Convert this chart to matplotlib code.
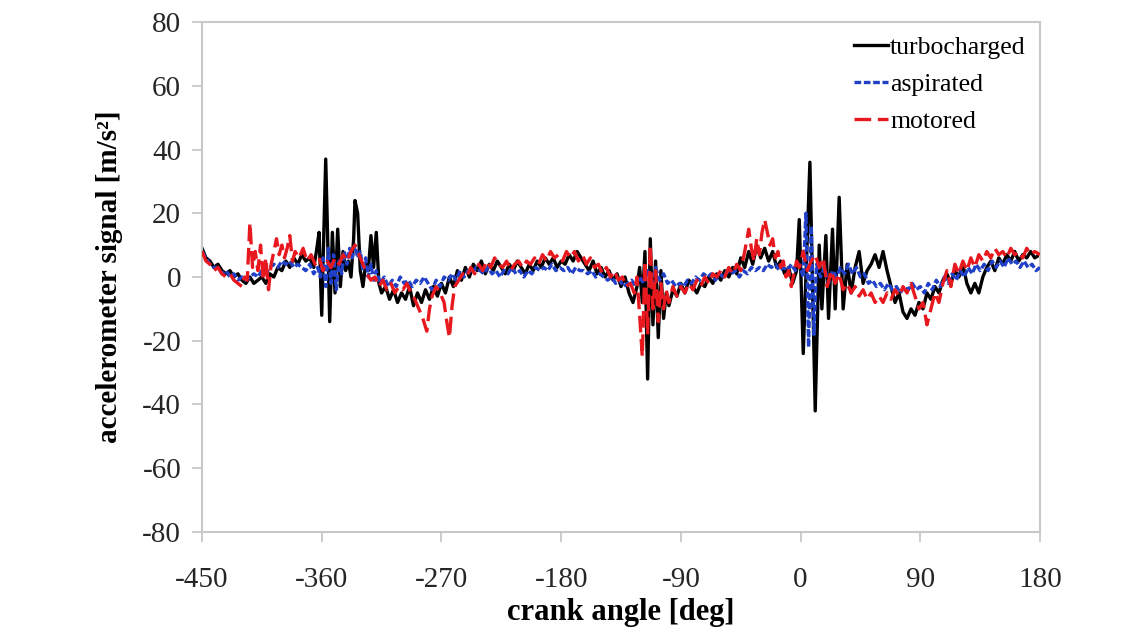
import matplotlib.pyplot as plt

# crank angle [deg] / accelerometer signal [m/s^2]
turbo_deg = [
    -450, -447, -444, -441, -438, -435, -432, -429, -426, -423, -420, -417, -414, -411, -408,
    -405, -402, -399, -396, -393, -390, -387, -384, -381, -378, -375, -372, -369, -366, -364,
    -362, -360, -357, -354, -352, -350, -348, -346, -344, -342, -340, -338, -336, -335, -333,
    -331, -329, -327, -325, -323, -321, -319, -317, -315, -312, -309, -306, -303, -300, -297,
    -294, -291, -288, -285, -282, -279, -276, -273, -270, -267, -264, -261, -258, -255, -252,
    -249, -246, -243, -240, -237, -234, -231, -228, -225, -222, -219, -216, -213, -210, -207,
    -204, -201, -198, -195, -192, -189, -186, -183, -180, -177, -174, -171, -168, -165, -162,
    -159, -156, -153, -150, -147, -144, -141, -138, -135, -132, -129, -126, -123, -121, -119,
    -117, -115, -113, -111, -109, -107, -105, -103, -101, -99, -96, -93, -90, -87, -84,
    -81, -78, -75, -72, -69, -66, -63, -60, -57, -54, -51, -48, -45, -42, -39,
    -36, -33, -30, -27, -24, -21, -18, -15, -12, -9, -6, -3, -1, 2, 7,
    11, 14, 16, 19, 21, 24, 26, 29, 32, 35, 38, 41, 44, 47, 50,
    53, 56, 59, 62, 65, 68, 71, 74, 77, 80, 83, 86, 89, 92, 95,
    98, 101, 104, 107, 110, 113, 116, 119, 122, 125, 128, 131, 134, 137, 140,
    143, 146, 149, 152, 155, 158, 161, 164, 167, 170, 173, 176, 180,
]
turbo_acc = [
    9, 6, 5, 3, 4, 2, 1, 2, 0, 1, -1, -2, 0, -2, -1,
    0, -2, 1, 0, 3, 2, 5, 3, 6, 4, 7, 5, 6, 3, 8,
    14, -12, 37, -14, 14, -5, 15, -3, 8, 2, 5, 0, 12, 24, 20,
    2, -3, 4, 2, 13, 3, 14, -2, -5, -3, -7, -4, -8, -5, -7,
    -3, -9, -5, -8, -4, -7, -3, -6, -2, -5, 0, -3, 2, -1, 3,
    0, 4, 2, 5, 1, 4, 2, 5, 3, 1, 4, 2, 5, 3, 1,
    4, 2, 5, 3, 6, 4, 6, 3, 5, 4, 7, 5, 8, 6, 4,
    2, 5, 1, 3, 0, 2, -1, 1, -3, 0, -5, -8, -3, 3, -8,
    8, -32, 12, -15, 5, -19, 2, -13, -5, -9, -4, -6, -2, -5, -1,
    -3, -5, -2, -3, 0, -2, 1, -1, 2, 0, 3, 1, 6, 3, 8,
    4, 10, 6, 9, 5, 8, 3, 5, 1, 3, -2, 2, 18, -24, 36,
    -42, 10, -10, 13, -13, 15, -10, 25, -10, 4, -5, 3, 8, -2, 2,
    4, 7, 3, 8, 2, -3, -8, -5, -11, -13, -10, -12, -8, -10, -5,
    -7, -3, -5, -1, 1, -2, 2, 0, 4, -2, -5, -2, -5, 0, 3,
    5, 2, 6, 4, 7, 5, 8, 5, 7, 6, 8, 6, 7,
]

asp_deg = [
    -450, -447, -444, -441, -438, -435, -432, -429, -426, -423, -420, -417, -414, -411, -408,
    -405, -402, -399, -396, -393, -390, -387, -384, -381, -378, -375, -372, -369, -366, -363,
    -361, -359, -357, -355, -353, -351, -349, -347, -345, -343, -341, -339, -337, -335, -333,
    -331, -329, -327, -325, -323, -321, -319, -316, -313, -310, -307, -304, -301, -298, -295,
    -292, -289, -286, -283, -280, -277, -274, -271, -268, -265, -262, -259, -256, -253, -250,
    -247, -244, -241, -238, -235, -232, -229, -226, -223, -220, -217, -214, -211, -208, -205,
    -202, -199, -196, -193, -190, -187, -184, -181, -178, -175, -172, -169, -166, -163, -160,
    -157, -154, -151, -148, -145, -142, -139, -136, -133, -130, -127, -124, -121, -118, -115,
    -112, -109, -106, -103, -100, -97, -94, -91, -88, -85, -82, -79, -76, -73, -70,
    -67, -64, -61, -58, -55, -52, -49, -46, -43, -40, -37, -34, -31, -28, -25,
    -22, -19, -16, -13, -10, -7, -4, -1, 2, 4, 6, 8, 10, 12, 15,
    18, 21, 24, 27, 30, 33, 36, 39, 42, 45, 48, 51, 54, 57, 60,
    63, 66, 69, 72, 75, 78, 81, 84, 87, 90, 93, 96, 99, 102, 105,
    108, 111, 114, 117, 120, 123, 126, 129, 132, 135, 138, 141, 144, 147, 150,
    153, 156, 159, 162, 165, 168, 171, 174, 177, 180,
]
asp_acc = [
    8, 6, 4, 3, 3, 1, 2, 0, 1, -1, 0, -1, 0, 1, 0,
    2, 1, 3, 4, 3, 5, 4, 5, 3, 4, 3, 2, 4, 1, 3,
    0, 6, -3, 9, -2, 7, -4, 5, 1, 8, 4, 9, 6, 10, 6,
    8, 2, 6, 0, 4, -1, 2, -2, 0, -3, -1, -3, 0, -2, -1,
    -3, -1, -2, 0, -2, -4, -1, -3, 0, -1, 1, -1, 2, 0, 2,
    1, 3, 2, 1, 3, 1, 2, 0, 2, 1, 3, 1, 2, 0, 2,
    1, 3, 2, 3, 2, 4, 2, 3, 2, 3, 1, 3, 2, 2, 1,
    2, 0, 1, 0, -1, 0, -2, -1, -3, -2, -1, -3, 0, -2, 2,
    -3, 3, -1, 1, -2, -1, -3, -2, -3, -1, -2, 0, -1, 1, 0,
    1, -1, 1, 0, 2, 1, 2, 0, 2, 1, 3, 2, 3, 2, 4,
    3, 4, 2, 3, 2, 4, 2, 4, 0, 20, -22, 16, -18, 4, 0,
    3, -2, 2, 0, 3, 1, 4, 1, 3, 0, 1, -2, -1, -3, -2,
    -4, -2, -4, -3, -5, -3, -4, -2, -4, -3, -5, -2, -4, -1, -3,
    0, -2, 1, -1, 2, 0, 3, 1, 4, 2, 4, 2, 5, 3, 5,
    3, 6, 4, 5, 3, 5, 3, 4, 2, 3,
]

mot_deg = [
    -450, -447, -444, -441, -438, -435, -432, -429, -426, -423, -420, -418, -416, -414, -412,
    -410, -408, -406, -404, -402, -400, -398, -396, -394, -392, -390, -388, -386, -384, -382,
    -380, -377, -374, -371, -368, -365, -362, -359, -356, -353, -350, -347, -344, -341, -338,
    -335, -332, -329, -326, -323, -320, -317, -314, -311, -308, -305, -302, -299, -296, -293,
    -290, -287, -284, -281, -279, -277, -274, -271, -268, -266, -264, -262, -260, -257, -254,
    -251, -248, -245, -242, -239, -236, -233, -230, -227, -224, -221, -218, -215, -212, -209,
    -206, -203, -200, -197, -194, -191, -188, -185, -182, -179, -176, -173, -170, -167, -164,
    -161, -158, -155, -152, -149, -146, -143, -140, -137, -134, -131, -128, -125, -123, -121,
    -119, -117, -115, -113, -111, -109, -107, -105, -103, -101, -99, -96, -93, -90, -87,
    -84, -81, -78, -75, -72, -69, -66, -63, -60, -57, -54, -51, -48, -45, -42,
    -39, -37, -35, -33, -31, -29, -27, -25, -23, -21, -19, -17, -15, -13, -11,
    -9, -7, -5, -3, -1, 2, 5, 8, 11, 14, 17, 20, 23, 26, 29,
    32, 35, 38, 41, 44, 47, 50, 53, 56, 59, 62, 65, 68, 71, 74,
    77, 80, 83, 86, 89, 92, 95, 98, 101, 104, 107, 110, 113, 116, 119,
    122, 125, 128, 131, 134, 137, 140, 143, 146, 149, 152, 155, 158, 161, 164,
    167, 170, 173, 176, 180,
]
mot_acc = [
    8, 5, 4, 2, 3, 1, 0, 1, -1, -2, -3, 0, -1, 17, 3,
    8, 2, 10, -1, 6, -4, 4, 8, 12, 7, 10, 6, 9, 13, 5,
    8, 6, 9, 5, 7, 4, 6, 2, 5, 3, 6, 4, 7, 5, 8,
    10, 7, 4, 1, -1, 0, -3, -1, -4, -2, -5, -3, -4, -2, -5,
    -7, -10, -13, -17, -10, -6, -3, -5, -8, -14, -19, -9, -3, -1, 1,
    0, 3, 1, 4, 2, 5, 3, 6, 4, 3, 5, 2, 4, 5, 3,
    5, 4, 6, 4, 7, 5, 8, 6, 7, 5, 8, 6, 8, 5, 7,
    4, 6, 3, 4, 1, 3, 0, 2, -1, 0, -3, -2, -5, 0, -12,
    -25, 5, -18, 10, -10, 2, -14, -2, -10, -4, -8, -3, -6, -3, -5,
    -2, -4, -1, -3, 0, -2, 1, 0, 2, 0, 3, 1, 4, 2, 8,
    15, 9, 5, 12, 7, 14, 18, 14, 10, 12, 6, 8, 3, 5, 0,
    2, -3, 1, 5, 3, 8, 2, 5, 7, 3, 6, -3, 2, -2, 1,
    -4, -2, -5, -3, -6, -4, -7, -5, -8, -6, -8, -5, -7, -4, -6,
    -3, -5, -2, -6, -10, -8, -15, -10, -5, -8, -2, 2, -3, 4, 1,
    5, 2, 6, 3, 7, 5, 8, 6, 9, 7, 8, 6, 9, 7, 8,
    6, 9, 7, 8, 7,
]

x_ticks = [-450, -360, -270, -180, -90, 0, 90, 180]
y_ticks = [-80, -60, -40, -20, 0, 20, 40, 60, 80]

plt.rcParams["font.family"] = ["Liberation Serif", "DejaVu Serif"]
plt.rcParams["axes.unicode_minus"] = False

fig = plt.figure(figsize=(11.4, 6.33), dpi=100)
ax = fig.add_axes([0.1772, 0.1596, 0.7351, 0.8056])

ax.plot(turbo_deg, turbo_acc, color="black", lw=2.4, label="turbocharged", zorder=2)
ax.plot(asp_deg, asp_acc, color="#2040c8", lw=2.4, ls=(0, (2.0, 0.8)),
        label="aspirated", zorder=3)
ax.plot(mot_deg, mot_acc, color="#e8191e", lw=2.4, ls=(0, (5, 2)),
        label="motored", zorder=4)

ax.set_xlim(-450, 180)
ax.set_ylim(-80, 80)
ax.set_xticks(x_ticks)
ax.set_yticks(y_ticks)

grey = "#c8c8c8"
for sp in ax.spines.values():
    sp.set_color(grey)
    sp.set_linewidth(1.5)
ax.tick_params(direction="out", length=7, width=1.3, color=grey,
               labelsize=21, labelcolor="#262626", pad=8)
ax.tick_params(axis="x", pad=18)

ax.set_xlabel("crank angle [deg]", fontsize=22, fontweight="bold", labelpad=4)
ax.set_ylabel("accelerometer signal [m/s²]", fontsize=21, fontweight="bold", labelpad=14)

leg = ax.legend(loc="upper right", frameon=False, fontsize=18.5, handlelength=1.3,
                handletextpad=0.1, labelspacing=0.55, borderaxespad=0.15)

fig.savefig("out.png", dpi=100)
